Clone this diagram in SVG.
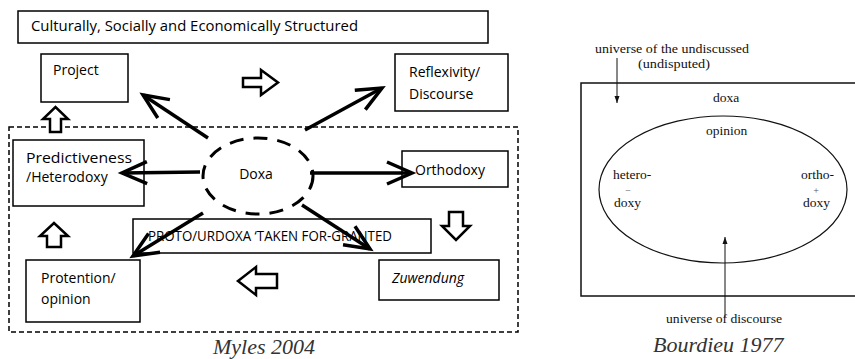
<svg xmlns="http://www.w3.org/2000/svg" width="855" height="359" viewBox="0 0 855 359">
<style>
.box{fill:#fff;stroke:#000;stroke-width:1.5}
.t{font-family:"Open Sans","Liberation Sans",sans-serif;font-size:14px;fill:#000}
.s{font-family:"Liberation Serif","DejaVu Serif",serif;font-size:13.5px;fill:#111}
.sign{font-family:"Liberation Serif","DejaVu Serif",serif;font-size:10px;fill:#555}
.cap{font-family:"Liberation Serif","DejaVu Serif",serif;font-size:22px;font-style:italic;fill:#333}
.arr{fill:none;stroke:#000;stroke-width:3.5}
.blk{fill:#fff;stroke:#000;stroke-width:2.5;stroke-linejoin:miter}
.thin{fill:none;stroke:#111;stroke-width:1}
</style>
<defs>
<marker id="v" viewBox="-30 -15 34 30" refX="0" refY="0" markerWidth="34" markerHeight="30" markerUnits="userSpaceOnUse" orient="auto" overflow="visible">
<path d="M-25,-11 L0,0 L-25,11" fill="none" stroke="#000" stroke-width="3.5"/>
</marker>
<marker id="sm" viewBox="-8 -4 9 8" refX="0" refY="0" markerWidth="9" markerHeight="8" markerUnits="userSpaceOnUse" orient="auto">
<path d="M-7,-2.5 L0,0 L-7,2.5 Z" fill="#111"/>
</marker>
</defs>

<!-- Left diagram (Myles 2004) -->
<rect x="9" y="127" width="509" height="205" fill="none" stroke="#000" stroke-width="1.5" stroke-dasharray="5 3"/>

<g id="structured">
<rect class="box" x="18" y="11" width="470" height="32"/>
<text class="t" x="31" y="31" textLength="327" lengthAdjust="spacingAndGlyphs">Culturally, Socially and Economically Structured</text>
</g>
<g id="project">
<rect class="box" x="41" y="54" width="87" height="48"/>
<text class="t" x="53" y="75" font-size="13">Project</text>
</g>
<g id="reflexivity">
<rect class="box" x="395" y="54" width="113" height="57"/>
<text class="t" x="409" y="77">Reflexivity/</text>
<text class="t" x="409" y="99">Discourse</text>
</g>
<g id="predictiveness">
<rect class="box" x="13" y="140" width="131" height="66"/>
<text class="t" x="26" y="163" textLength="106" lengthAdjust="spacingAndGlyphs">Predictiveness</text>
<text class="t" x="26" y="182">/Heterodoxy</text>
</g>
<g id="orthodoxy">
<rect class="box" x="402" y="151" width="106" height="36"/>
<text class="t" x="415" y="175">Orthodoxy</text>
</g>
<g id="proto">
<rect class="box" x="133" y="219" width="298" height="34"/>
<text class="t" x="148" y="241" font-size="13" textLength="244" lengthAdjust="spacingAndGlyphs">PROTO/URDOXA ‘TAKEN FOR-GRANTED</text>
</g>
<g id="zuwendung">
<rect class="box" x="379" y="260" width="120" height="40"/>
<text class="t" x="392" y="283" font-style="italic">Zuwendung</text>
</g>
<g id="protention">
<rect class="box" x="26" y="260" width="114" height="62"/>
<text class="t" x="41" y="283">Protention/</text>
<text class="t" x="41" y="304">opinion</text>
</g>
<g id="doxa">
<ellipse cx="258" cy="176" rx="55" ry="38" fill="#fff" stroke="#000" stroke-width="3" stroke-dasharray="14 10"/>
<text class="t" x="256" y="179" text-anchor="middle">Doxa</text>
</g>

<g id="connectors">
<path class="arr" d="M208,138 L143,95" marker-end="url(#v)"/>
<path class="arr" d="M305,130 L382,88" marker-end="url(#v)"/>
<path class="arr" d="M200,172 L122,173" marker-end="url(#v)"/>
<path class="arr" d="M310,173 L412,173" marker-end="url(#v)"/>
<path class="arr" d="M203,213 L133,256" marker-end="url(#v)"/>
<path class="arr" d="M302,205 L370,249" marker-end="url(#v)"/>
<polygon class="blk" points="243,78 261,78 261,70 278,82.5 261,95 261,87 243,87"/>
<polygon class="blk" points="50,132 50,119 43,119 55.5,107 68,119 61,119 61,132"/>
<polygon class="blk" points="47,247 47,236 40,236 54,223 68,236 61,236 61,247"/>
<polygon class="blk" points="449,212 463,212 463,226 470,226 456,240 442,226 449,226"/>
<polygon class="blk" points="277,274 256,274 256,267 238,281 256,295 256,288 277,288"/>
<path class="thin" d="M617,58 L617,103" marker-end="url(#sm)"/>
<path class="thin" d="M725,317 L725,237" marker-end="url(#sm)"/>
</g>

<text class="cap" x="213" y="354">Myles 2004</text>

<!-- Right diagram (Bourdieu 1977) -->
<g id="bourdieu">
<rect x="581" y="83" width="290" height="213" fill="none" stroke="#111" stroke-width="1.5"/>
<ellipse cx="723" cy="189.5" rx="124" ry="73.5" fill="none" stroke="#111" stroke-width="1.2"/>
<text class="s" x="595" y="53" font-size="12.5" textLength="154" lengthAdjust="spacingAndGlyphs">universe of the undiscussed</text>
<text class="s" x="638" y="68" font-size="12.5" textLength="72" lengthAdjust="spacingAndGlyphs">(undisputed)</text>
<text class="s" x="713" y="102">doxa</text>
<text class="s" x="706" y="135">opinion</text>
<text class="s" x="613" y="179">hetero-</text>
<text class="sign" x="628" y="194" text-anchor="middle">−</text>
<text class="s" x="614" y="207">doxy</text>
<text class="s" x="801" y="179">ortho-</text>
<text class="sign" x="816" y="194" text-anchor="middle">+</text>
<text class="s" x="803" y="207">doxy</text>
<text class="s" x="666" y="323" textLength="116" lengthAdjust="spacingAndGlyphs">universe of discourse</text>
</g>
<text class="cap" x="653" y="352">Bourdieu 1977</text>
</svg>
